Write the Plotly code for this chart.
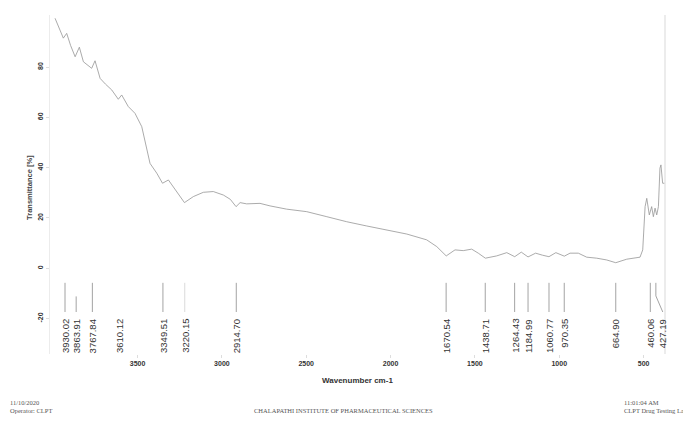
import plotly.graph_objects as go

# ---- data ----
wavenumber = [3989, 3962, 3940, 3920, 3897, 3870, 3845, 3821, 3795, 3772, 3752, 3722, 3690,
              3653, 3614, 3594, 3555, 3515, 3475, 3456, 3426, 3386, 3352, 3317, 3268, 3222,
              3169, 3110, 3051, 2991, 2950, 2916, 2892, 2853, 2774, 2715, 2616, 2497, 2378,
              2260, 2141, 2023, 1904, 1786, 1726, 1670, 1618, 1569, 1519, 1480, 1438, 1371,
              1311, 1264, 1225, 1185, 1140, 1100, 1061, 1020, 970, 936, 887, 837, 778, 719,
              665, 600, 521, 505, 497, 491, 481, 466, 452, 442, 432, 422, 412, 403, 397,
              391, 387, 373]
transmittance = [99.4, 95.2, 91.5, 93.4, 88.6, 84.1, 87.9, 82.1, 80.6, 79.5, 82.5, 75.5, 73.2,
                 70.9, 67.2, 68.9, 64.3, 61.6, 56.3, 51.0, 41.7, 37.8, 33.8, 35.1, 30.5, 26.1,
                 28.5, 30.2, 30.5, 29.1, 27.4, 24.5, 26.1, 25.6, 25.8, 24.8, 23.5, 22.5, 20.5,
                 18.5, 16.8, 15.2, 13.6, 11.3, 8.6, 4.9, 7.3, 7.0, 7.6, 6.0, 4.0, 4.9,
                 6.2, 4.6, 6.4, 4.5, 6.0, 5.2, 4.6, 6.2, 4.8, 6.0, 6.0, 4.4, 4.0, 3.3,
                 2.2, 3.6, 4.4, 7.3, 16.5, 24.5, 27.8, 21.2, 24.5, 20.5, 23.9, 21.2, 24.5, 39.8, 41.1,
                 36.4, 33.8, 33.8]

peak_positions = [3930.02, 3863.91, 3767.84, 3610.12, 3349.51, 3220.15, 2914.70,
                  1670.54, 1438.71, 1264.43, 1184.99, 1060.77, 970.35, 664.90, 460.06, 427.19]
peak_labels = ["3930.02", "3863.91", "3767.84", "3610.12", "3349.51", "3220.15", "2914.70",
               "1670.54", "1438.71", "1264.43", "1184.99", "1060.77", "970.35", "664.90",
               "460.06", "427.19"]

x_ticks = [3500, 3000, 2500, 2000, 1500, 1000, 500]
y_ticks = [-20, 0, 20, 40, 60, 80]

# ---- styling of peak markers (not data) ----
line_top = {"3863.91": -11.2}
no_line = {"3610.12"}
faint_line = {"3220.15"}
label_shift = {"427.19": -41.0}   # label pushed right (in cm-1) to avoid overlap
TOP, BOT, LABEL_Y = -5.8, -17.4, -19.4

fig = go.Figure()
fig.add_trace(go.Scatter(x=wavenumber, y=transmittance, mode="lines",
                         line=dict(color="#959595", width=0.8), hoverinfo="skip"))

xs, ys, xf, yf = [], [], [], []
for p, lab in zip(peak_positions, peak_labels):
    if lab in no_line:
        continue
    top = line_top.get(lab, TOP)
    if lab in label_shift:
        px = [p, p, p + label_shift[lab], None]
        py = [top, -11.0, BOT, None]
    else:
        px = [p, p, None]
        py = [top, BOT, None]
    if lab in faint_line:
        xf += px; yf += py
    else:
        xs += px; ys += py
fig.add_trace(go.Scatter(x=xs, y=ys, mode="lines", line=dict(color="#8c8c8c", width=0.8),
                         hoverinfo="skip"))
fig.add_trace(go.Scatter(x=xf, y=yf, mode="lines", line=dict(color="#d0d0d0", width=0.8),
                         hoverinfo="skip"))

for p, lab in zip(peak_positions, peak_labels):
    fig.add_annotation(x=p + label_shift.get(lab, 0), y=LABEL_Y, text=lab, textangle=-90,
                       showarrow=False, xanchor="center", yanchor="top",
                       font=dict(family="Liberation Sans, Arial", size=9.5, color="#333"))

# axis titles
fig.add_annotation(xref="paper", yref="paper", x=0.5, y=0, yshift=-26, text="<b>Wavenumber cm-1</b>",
                   showarrow=False, xanchor="center", yanchor="middle",
                   font=dict(family="Liberation Sans, Arial", size=8, color="#333"))
fig.add_annotation(xref="paper", yref="paper", x=0, xshift=-20, y=0.49, text="<b>Transmittance [%]</b>",
                   textangle=-90, showarrow=False, xanchor="center", yanchor="middle",
                   font=dict(family="Liberation Sans, Arial", size=7.5, color="#444"))

# footer texts
serif = dict(family="Liberation Serif, DejaVu Serif", size=6.5, color="#555")
fig.add_annotation(xref="paper", yref="paper", x=0, xshift=-42, y=0, yshift=-52,
                   text="11/10/2020<br>Operator: CLPT", align="left", showarrow=False,
                   xanchor="left", yanchor="middle", font=serif)
fig.add_annotation(xref="paper", yref="paper", x=0.478, y=0, yshift=-56,
                   text="CHALAPATHI INSTITUTE OF PHARMACEUTICAL SCIENCES", showarrow=False,
                   xanchor="center", yanchor="middle", font=serif)
fig.add_annotation(xref="paper", yref="paper", x=1, xshift=-43, y=0, yshift=-52,
                   text="11:01:04 AM<br>CLPT Drug Testing Lab", align="left", showarrow=False,
                   xanchor="left", yanchor="middle", font=serif)

fig.add_shape(type="line", xref="paper", yref="paper", x0=1, x1=1, y0=0, y1=1,
              line=dict(color="#e6e6e6", width=1.5))

# the page adds an 8 px body margin: figure is 8 px smaller, left/top margins reduced by 8
fig.update_layout(
    width=683, height=417, margin=dict(l=42, r=26, t=7, b=71),
    paper_bgcolor="white", plot_bgcolor="white", showlegend=False,
    xaxis=dict(range=[4019, 373], tickvals=x_ticks, ticktext=[f"<b>{v}</b>" for v in x_ticks],
               showgrid=False, zeroline=False, showline=False, ticks="outside", ticklen=3,
               tickcolor="#ddd", tickfont=dict(family="Liberation Sans, Arial", size=7, color="#333")),
    yaxis=dict(range=[-34.1, 100.7], tickvals=y_ticks, ticktext=[f"<b>{v}</b>" for v in y_ticks],
               tickangle=-90, showgrid=False, zeroline=False, showline=True, linecolor="#ececec",
               ticks="outside", ticklen=3, tickcolor="#ddd",
               tickfont=dict(family="Liberation Sans, Arial", size=7, color="#333")),
)
fig.write_html("out.html")
